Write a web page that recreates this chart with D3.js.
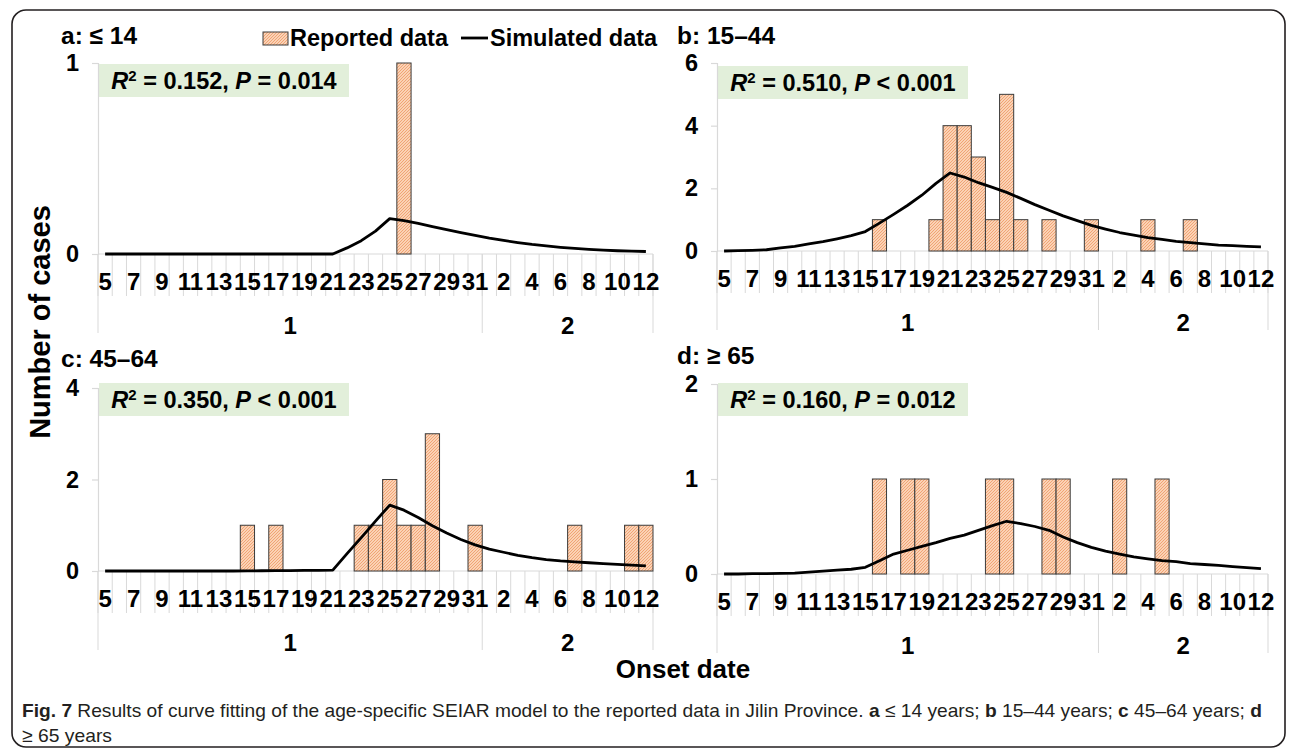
<!DOCTYPE html>
<html><head><meta charset="utf-8">
<script src="https://cdn.jsdelivr.net/npm/d3@7/dist/d3.min.js"></script>
<style>
body{margin:0;background:#fff}
svg{display:block}
text{font-family:"Liberation Sans",Arial,sans-serif}
</style></head><body>
<svg id="chart" width="1292" height="753"></svg>
<script>
// ---------- data ----------
const dayLabels = [5,6,7,8,9,10,11,12,13,14,15,16,17,18,19,20,21,22,23,24,25,26,27,28,29,30,31,1,2,3,4,5,6,7,8,9,10,11,12];
const monthLabels = ["1","2"];
const monthDayCounts = [27,12];

const reportedA = [0,0,0,0,0, 0,0,0,0,0, 0,0,0,0,0, 0,0,0,0,0, 0,1,0,0,0, 0,0,0,0,0, 0,0,0,0,0, 0,0,0,0];
const simulatedA = [0,0,0,0,0, 0,0,0,0,0, 0,0,0,0,0, 0,0,0.032,0.07,0.12, 0.185,0.175,0.16,0.143,0.127, 0.112,0.097,0.083,0.071,0.06, 0.05,0.042,0.035,0.029,0.024, 0.02,0.017,0.015,0.013];

const reportedB = [0,0,0,0,0, 0,0,0,0,0, 0,1,0,0,0, 1,4,4,3,1, 5,1,0,1,0, 0,1,0,0,0, 1,0,0,1,0, 0,0,0,0];
const simulatedB = [0,0.01,0.02,0.04,0.1, 0.15,0.23,0.3,0.39,0.49, 0.62,0.89,1.17,1.46,1.78, 2.16,2.49,2.36,2.18,2.03, 1.87,1.68,1.48,1.3,1.12, 0.97,0.82,0.7,0.59,0.51, 0.43,0.37,0.31,0.27,0.23, 0.19,0.17,0.15,0.13];

const reportedC = [0,0,0,0,0, 0,0,0,0,0, 1,0,1,0,0, 0,0,0,1,1, 2,1,1,3,0, 0,1,0,0,0, 0,0,0,1,0, 0,0,1,1];
const simulatedC = [0,0,0,0,0, 0,0,0,0,0, 0.003,0.005,0.008,0.01,0.012, 0.015,0.02,0.38,0.73,1.09, 1.44,1.33,1.17,0.99,0.83, 0.69,0.57,0.48,0.41,0.34, 0.29,0.25,0.22,0.2,0.18, 0.16,0.145,0.13,0.11];

const reportedD = [0,0,0,0,0, 0,0,0,0,0, 0,1,0,1,1, 0,0,0,0,1, 1,0,0,1,1, 0,0,0,1,0, 0,1,0,0,0, 0,0,0,0];
const simulatedD = [0,0,0.004,0.004,0.007, 0.01,0.02,0.03,0.04,0.05, 0.07,0.14,0.21,0.25,0.29, 0.33,0.375,0.41,0.46,0.51, 0.555,0.53,0.5,0.46,0.39, 0.33,0.28,0.24,0.21,0.18, 0.16,0.14,0.13,0.11,0.1, 0.09,0.077,0.067,0.056];

const panelTitles = ["a: \u2264 14","b: 15\u201344","c: 45\u201364","d: \u2265 65"];
const yMaxes = [1,6,4,2];
const yTickSets = [[0,1],[0,2,4,6],[0,2,4],[0,1,2]];
const r2Values = ["0.152","0.510","0.350","0.160"];
const pOps = ["=","<","<","="];
const pValues = ["0.014","0.001","0.001","0.012"];
const legendLabels = ["Reported data","Simulated data"];

// ---------- derived categories ----------
const monthOf = [];
monthLabels.forEach((m,k)=>{ for(let j=0;j<monthDayCounts[k];j++) monthOf.push(m); });
const keys = dayLabels.map((d,i)=>monthOf[i]+"-"+d);

// ---------- layout ----------
const layout = [
  {left:98,  right:653,  zero:254, top:63,  tx:61,  ty:44,  boxY:64},
  {left:717, right:1268, zero:251, top:63,  tx:677, ty:44,  boxY:66},
  {left:98,  right:653,  zero:571, top:388, tx:61,  ty:367, boxY:383},
  {left:717, right:1268, zero:574, top:384, tx:677, ty:364, boxY:383}
];
const reported = [reportedA,reportedB,reportedC,reportedD];
const simulated = [simulatedA,simulatedB,simulatedC,simulatedD];

const svg = d3.select("#chart");
const defs = svg.append("defs");
const pat = defs.append("pattern").attr("id","hatch").attr("patternUnits","userSpaceOnUse")
  .attr("width",3).attr("height",3);
pat.append("rect").attr("width",3).attr("height",3).attr("fill","#fbd2b5");
pat.append("path").attr("d","M-1,1 l2,-2 M0,3 l3,-3 M2,4 l2,-2").attr("stroke","#ee9f6e").attr("stroke-width",0.9);

// frame
svg.append("rect").attr("x",12).attr("y",10).attr("width",1273).attr("height",737)
  .attr("rx",14).attr("fill","none").attr("stroke","#231f20").attr("stroke-width",1.6);

const AX = "#d9d9d9";
const FS = 24;

layout.forEach((L,p)=>{
  const g = svg.append("g");
  const x = d3.scaleBand().domain(keys).range([L.left,L.right]).padding(0);
  const y = d3.scaleLinear().domain([0,yMaxes[p]]).range([L.zero,L.top]);

  // stat box
  g.append("rect").attr("x",L.left+1).attr("y",L.boxY).attr("width",250).attr("height",33).attr("fill","#e2efda");
  const st = g.append("text").attr("x",L.left+1+125).attr("y",L.boxY+25).attr("text-anchor","middle")
    .attr("font-size",23.5).attr("font-weight","bold");
  st.append("tspan").attr("font-style","italic").text("R");
  st.append("tspan").attr("font-size",15).attr("dy",-8).text("2");
  st.append("tspan").attr("dy",8).text(" = "+r2Values[p]+", ");
  st.append("tspan").attr("font-style","italic").text("P");
  st.append("tspan").text(" "+pOps[p]+" "+pValues[p]);

  // y axis
  const ya = g.append("g").attr("transform",`translate(${L.left},0)`)
    .call(d3.axisLeft(y).tickValues(yTickSets[p]).tickFormat(d3.format("d")).tickSize(6).tickPadding(13));
  ya.selectAll("path,line").attr("stroke",AX).attr("stroke-width",1.2);
  ya.selectAll("text").attr("font-size",23.5).attr("font-weight","bold").attr("fill","#000")
    .attr("font-family","Liberation Sans, Arial, sans-serif");

  // x axis baseline
  g.append("line").attr("x1",L.left).attr("x2",L.right).attr("y1",L.zero).attr("y2",L.zero)
    .attr("stroke",AX).attr("stroke-width",1.2);
  // category boundary ticks
  const bounds = keys.map(k=>x(k)).concat([L.right]);
  g.selectAll(".ct").data(bounds).join("line")
    .attr("x1",d=>d).attr("x2",d=>d).attr("y1",L.zero).attr("y2",L.zero+42)
    .attr("stroke",AX).attr("stroke-width",1);
  // month separators
  const mStarts = [];
  let acc=0; monthDayCounts.forEach(c=>{ mStarts.push(acc); acc+=c; }); mStarts.push(acc);
  const mb = mStarts.map(i=> i<keys.length ? x(keys[i]) : L.right);
  g.selectAll(".ms").data(mb).join("line")
    .attr("x1",d=>d).attr("x2",d=>d).attr("y1",L.zero).attr("y2",L.zero+79)
    .attr("stroke",AX).attr("stroke-width",1);
  // day labels (every other)
  g.selectAll(".dl").data(keys.filter((k,i)=>i%2===0)).join("text")
    .attr("x",k=>x(k)+x.bandwidth()/2).attr("y",L.zero+36).attr("text-anchor","middle")
    .attr("font-size",FS).attr("font-weight","bold").text(k=>k.split("-")[1]);
  // month labels
  monthLabels.forEach((m,k)=>{
    g.append("text").attr("x",(mb[k]+mb[k+1])/2).attr("y",L.zero+80).attr("text-anchor","middle")
      .attr("font-size",FS).attr("font-weight","bold").text(m);
  });

  // bars
  g.selectAll(".bar").data(keys.map((k,i)=>({k,v:reported[p][i]})).filter(d=>d.v>0)).join("rect")
    .attr("x",d=>x(d.k)).attr("width",x.bandwidth()).attr("y",d=>y(d.v)).attr("height",d=>y(0)-y(d.v))
    .attr("fill","url(#hatch)").attr("stroke","#3b3b3b").attr("stroke-width",1);

  // line
  const line = d3.line().x((d,i)=>x(keys[i])+x.bandwidth()/2).y(d=>y(d));
  g.append("path").datum(simulated[p]).attr("d",line).attr("fill","none")
    .attr("stroke","#000").attr("stroke-width",2.8).attr("stroke-linejoin","round");

  // title
  g.append("text").attr("x",L.tx).attr("y",L.ty).attr("font-size",24.5).attr("font-weight","bold").text(panelTitles[p]);
});

// legend
const lg = svg.append("g");
lg.append("rect").attr("x",263).attr("y",32).attr("width",25).attr("height",13)
  .attr("fill","url(#hatch)").attr("stroke","#3b3b3b").attr("stroke-width",1);
lg.append("text").attr("x",290).attr("y",46).attr("font-size",23.5).attr("font-weight","bold").text(legendLabels[0]);
lg.append("line").attr("x1",461).attr("x2",488).attr("y1",38).attr("y2",38).attr("stroke","#000").attr("stroke-width",2.8);
lg.append("text").attr("x",490).attr("y",46).attr("font-size",23.5).attr("font-weight","bold").text(legendLabels[1]);

// axis titles
svg.append("text").attr("transform","translate(50,322) rotate(-90)").attr("text-anchor","middle")
  .attr("font-size",29).attr("font-weight","bold").text("Number of cases");
svg.append("text").attr("x",683).attr("y",678).attr("text-anchor","middle")
  .attr("font-size",26).attr("font-weight","bold").text("Onset date");

// caption
const capFont = "Liberation Sans Narrow, Liberation Sans, sans-serif";
const cap = svg.append("text").attr("x",22).attr("y",717).attr("font-size",19)
  .attr("font-family",capFont).attr("fill","#231f20")
  .attr("textLength",1240).attr("lengthAdjust","spacingAndGlyphs");
cap.append("tspan").attr("font-weight","bold").text("Fig. 7");
cap.append("tspan").text(" Results of curve fitting of the age-specific SEIAR model to the reported data in Jilin Province. ");
cap.append("tspan").attr("font-weight","bold").text("a");
cap.append("tspan").text(" \u2264 14 years; ");
cap.append("tspan").attr("font-weight","bold").text("b");
cap.append("tspan").text(" 15\u201344 years; ");
cap.append("tspan").attr("font-weight","bold").text("c");
cap.append("tspan").text(" 45\u201364 years; ");
cap.append("tspan").attr("font-weight","bold").text("d");
svg.append("text").attr("x",22).attr("y",742).attr("font-size",19)
  .attr("font-family",capFont).attr("fill","#231f20")
  .attr("textLength",90).attr("lengthAdjust","spacingAndGlyphs")
  .text("\u2265 65 years");
</script>
</body></html>
